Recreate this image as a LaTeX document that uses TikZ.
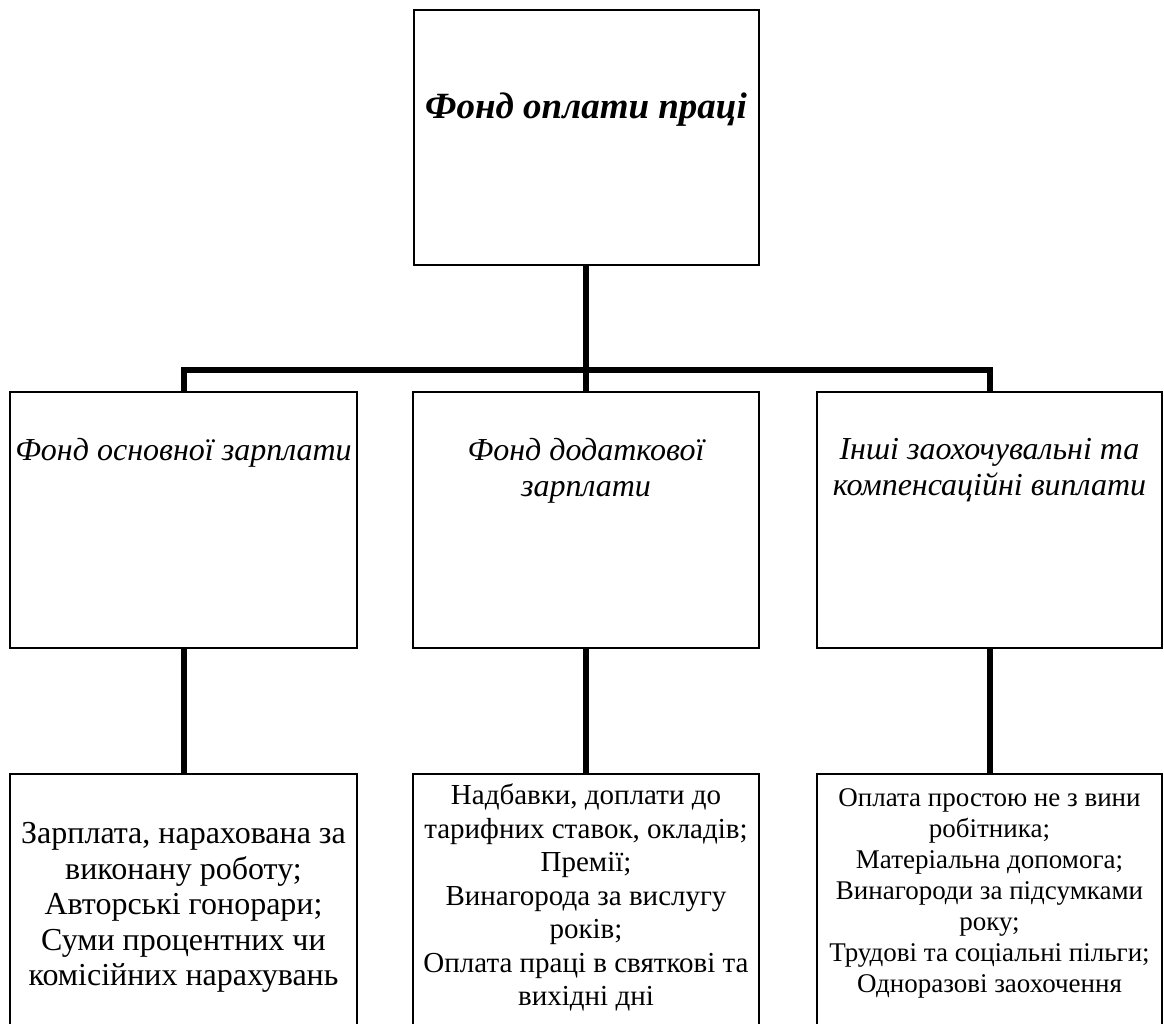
\documentclass[tikz,border=0pt]{standalone}
\usepackage{fontspec}
\setmainfont{Liberation Serif}
\begin{document}
\begin{tikzpicture}[x=1pt,y=-1pt,
  box/.style={draw, line width=2pt, inner sep=0pt},
  conn/.style={line width=6pt},
  mtext/.style={align=center, inner sep=0pt, anchor=north, font=\fontsize{32}{36}\selectfont\itshape},
  ltext/.style={align=center, inner sep=0pt, anchor=north}]
\useasboundingbox (0,0) rectangle (1164,1024);
% boxes
\node[box, minimum width=345pt, minimum height=255pt] (top) at (586,137.5) {};
\node[box, minimum width=347pt, minimum height=256pt] (m1) at (183.5,520) {};
\node[box, minimum width=346pt, minimum height=256pt] (m2) at (586,520) {};
\node[box, minimum width=345pt, minimum height=256pt] (m3) at (989.5,520) {};
\node[box, minimum width=347pt, minimum height=260pt] (b1) at (183.5,904) {};
\node[box, minimum width=346pt, minimum height=260pt] (b2) at (586,904) {};
\node[box, minimum width=345pt, minimum height=260pt] (b3) at (989.5,904) {};
\coordinate (bar) at (586,370);
% connectors
\draw[conn] (top.south) -- (top.south |- bar);
\draw[conn] (m1.north) -- (m1.north |- bar) -- (m3.north |- bar) -- (m3.north);
\draw[conn] (m2.north) -- (m2.north |- bar);
\draw[conn] (m1.south) -- (b1.north);
\draw[conn] (m2.south) -- (b2.north);
\draw[conn] (m3.south) -- (b3.north);
% texts
\node[inner sep=0pt, anchor=base, font=\fontsize{37}{42}\selectfont\bfseries\itshape] (tt) at (586,119) {Фонд оплати праці};
\node[mtext] (t1) at (183.5,438) {Фонд основної зарплати};
\node[mtext] (t2) at (586,438) {Фонд додаткової\\зарплати};
\node[mtext] (t3) at (989.5,438) {Інші заохочувальні та\\компенсаційні виплати};
\node[ltext, font=\fontsize{32}{35.5}\selectfont] (u1) at (183.5,822.5) {Зарплата, нарахована за\\виконану роботу;\\Авторські гонорари;\\Суми процентних чи\\комісійних нарахувань};
\node[ltext, font=\fontsize{29}{33.5}\selectfont] (u2) at (586,784) {Надбавки, доплати до\\тарифних ставок, окладів;\\Премії;\\Винагорода за вислугу\\років;\\Оплата праці в святкові та\\вихідні дні};
\node[ltext, font=\fontsize{27}{31}\selectfont] (u3) at (989.5,788) {Оплата простою не з вини\\робітника;\\Матеріальна допомога;\\Винагороди за підсумками\\року;\\Трудові та соціальні пільги;\\Одноразові заохочення};
\end{tikzpicture}
\end{document}
